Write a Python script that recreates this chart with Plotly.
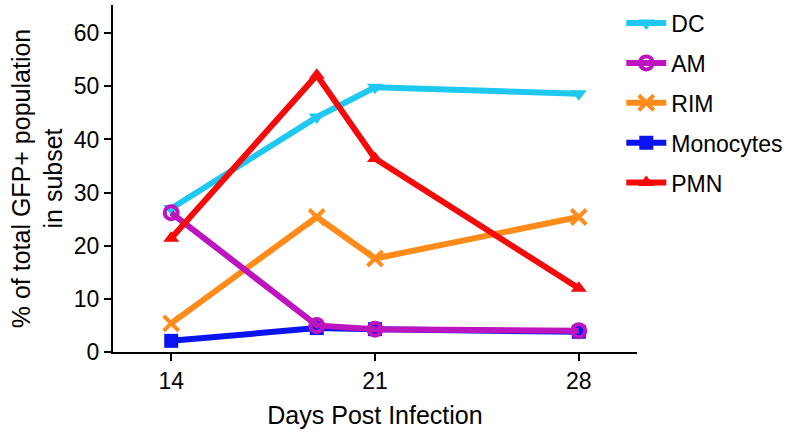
import plotly.graph_objects as go

days = [14, 19, 21, 28]
dc = [27.0, 44.2, 49.8, 48.6]
am = [26.2, 5.0, 4.3, 4.0]
rim = [5.4, 25.4, 17.6, 25.4]
mono = [2.1, 4.5, 4.3, 3.8]
pmn = [21.4, 52.1, 36.4, 12.0]

series = [
    # name, values, color, symbol, rank
    ("DC", dc, "#1EC8F0", "triangle-down", 1),
    ("RIM", rim, "#FF8C1A", "x-thin-open", 3),
    ("Monocytes", mono, "#0A14F0", "square", 4),
    ("AM", am, "#BE14BE", "circle-open", 2),
    ("PMN", pmn, "#F50A0A", "triangle-up", 5),
]

fig = go.Figure()
for name, vals, col, sym, rank in series:
    marker = dict(symbol=sym, size=14, color=col)
    if sym == "x-thin-open":
        marker.update(size=15, line=dict(color=col, width=4))
    elif sym == "circle-open":
        marker.update(size=13, line=dict(color=col, width=4))
    fig.add_trace(go.Scatter(
        x=days, y=vals, name=name, mode="lines+markers",
        line=dict(color=col, width=6),
        marker=marker, legendrank=rank, legendgroup=name,
    ))

fig.update_layout(
    width=800, height=444,
    paper_bgcolor="white", plot_bgcolor="white",
    margin=dict(l=113, r=163, t=5, b=92, autoexpand=False),
    font=dict(family="Liberation Sans, Arial, sans-serif", color="black", size=23),
    legend=dict(x=0.97, y=1.01, xanchor="left", yanchor="top",
                font=dict(size=23), tracegroupgap=7, itemwidth=40,
                bgcolor="rgba(0,0,0,0)"),
    showlegend=True,
)
fig.update_xaxes(
    range=[12, 30], tickvals=[14, 21, 28], showgrid=False, zeroline=False,
    showline=True, linecolor="black", linewidth=2,
    ticks="outside", ticklen=7, tickwidth=2, tickcolor="black",
    tickfont=dict(size=23),
    title=dict(text="Days Post Infection", font=dict(size=25), standoff=14),
)
fig.update_yaxes(
    range=[0, 65.3], tickvals=[0, 10, 20, 30, 40, 50, 60], showgrid=False, zeroline=False,
    showline=True, linecolor="black", linewidth=2,
    ticks="outside", ticklen=7, tickwidth=2, tickcolor="black",
    tickfont=dict(size=23),
    title=dict(text="% of total GFP+ population<br>in subset", font=dict(size=25), standoff=4),
)

fig.write_html("out.html", config={"displayModeBar": False},
               post_script="document.body.style.margin='0';")
